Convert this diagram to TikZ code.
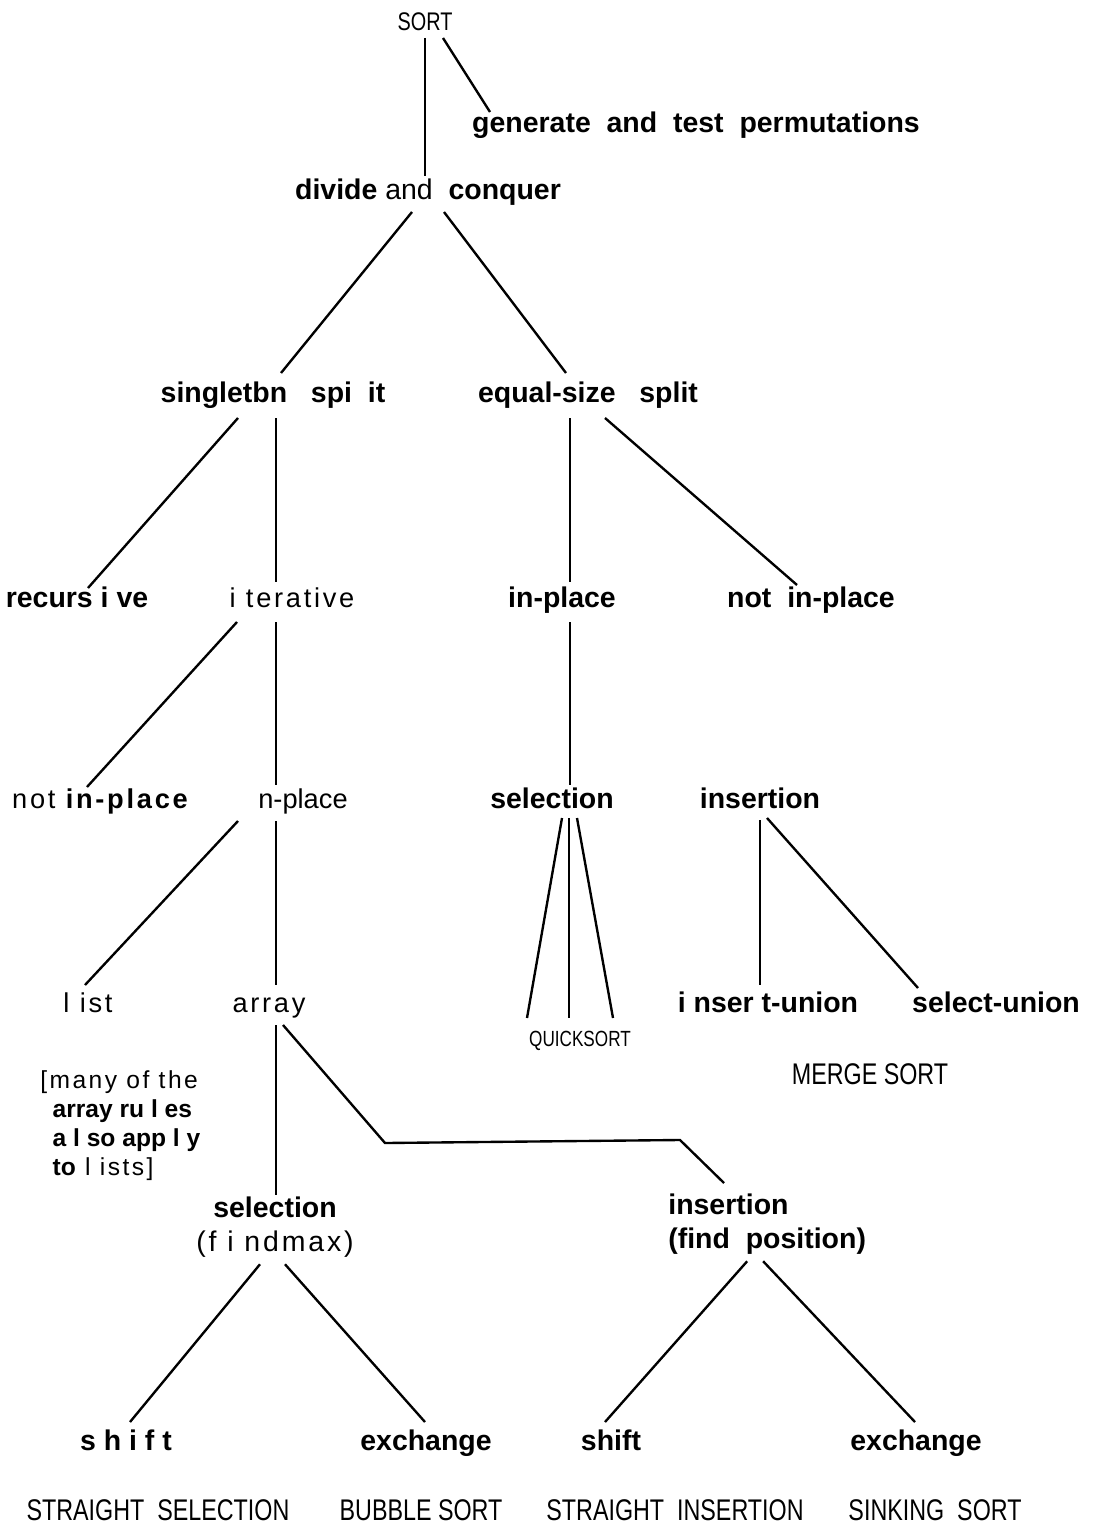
\documentclass[tikz,border=0pt]{standalone}
\usepackage{fontspec}                 % polices systeme
\setmainfont{Liberation Sans}
\newfontfamily\lblfont{Liberation Sans}
\newfontfamily\spcfont[LetterSpace=10]{Liberation Sans}
\newfontfamily\capfont[FakeStretch=0.78]{Liberation Sans}
\usepackage{tikz}
\usetikzlibrary{calc}                 % Calculs de coordonnées entre $ $
\tikzset{
  lbl/.style={inner sep=0pt,anchor=base,font=\lblfont\bfseries\fontsize{16.2}{18.8}\selectfont},
  thn/.style={inner sep=0pt,anchor=base,font=\spcfont\fontsize{15.5}{18.8}\selectfont},
  upc/.style={inner sep=0pt,anchor=base,font=\capfont\fontsize{17}{20}\selectfont},
  br/.style={line width=1.35pt}
}

\begin{document}
\begin{tikzpicture}[x=0.02cm,y=-0.02cm]
\useasboundingbox(0,0)rectangle(1096,1530);
% niveaux de l'arbre
\node[upc,font=\capfont\fontsize{14.5}{17}\selectfont](sort)at(425,31){SORT};
\node[lbl](gen)at(696,133){generate\ \ and\ \ test\ \ permutations};
\node[lbl](divide)at(428,200){divide {\mdseries and}\ \ conquer};
\node[lbl](single)at(273,402){singletbn\ \ \ spi\ \ it};
\node[lbl](equal)at(588,402){equal-size\ \ \ split};
\node[lbl](rec)at(77,607){recurs i ve};
\node[thn](iter)at(292,607){i terative};
\node[lbl](inpl)at(562,607){in-place};
\node[lbl](notinpl)at(811,607){not\ \ in-place};
\node[thn](notinplL)at(100,808){not\ {\bfseries in-place}};
\node[thn,font=\lblfont\fontsize{15.5}{18.8}\selectfont](nplace)at(303,808){n-place};
\node[lbl](sel)at(552,808){selection};
\node[lbl](ins)at(760,808){insertion};
\node[thn](list)at(88,1012){l ist};
\node[thn](array)at(269,1012){array};
\node[lbl](insu)at(768,1012){i nser t-union};
\node[lbl](selu)at(996,1012){select-union};
\node[upc,font=\capfont\fontsize{12.5}{15}\selectfont](quick)at(580,1046){QUICKSORT};
\node[upc](merge)at(870,1084){MERGE\ SORT};
\node[thn,align=left,anchor=north west,font=\spcfont\fontsize{14}{16.5}\selectfont](note)at(40,1070)
  {[many of the\\\hspace{7pt}{\lblfont\bfseries array ru l es}\\\hspace{7pt}{\lblfont\bfseries a l so app l y}\\\hspace{7pt}{\lblfont\bfseries to} l ists]};
\node[lbl,align=center,anchor=north](selmax)at(275,1197){selection\\{\spcfont\mdseries (f i ndmax)}};
\node[lbl,align=left,anchor=north west](insfp)at(668,1194){insertion\\(find\ \ position)};
\node[lbl](shiftL)at(126,1450){s h i f t};
\node[lbl](exchL)at(426,1450){exchange};
\node[lbl](shiftR)at(611,1450){shift};
\node[lbl](exchR)at(916,1450){exchange};
\node[upc](strsel)at(158,1520){STRAIGHT\ \ SELECTION};
\node[upc](bubble)at(421,1520){BUBBLE SORT};
\node[upc](strins)at(675,1520){STRAIGHT\ \ INSERTION};
\node[upc](sinking)at(935,1520){SINKING\ \ SORT};
% branches
\draw[br]($(sort.base)+(0,7)$)--($(divide.base)+(-3,-24)$);
\draw[br]($(sort.base)+(18,7)$)--($(gen.base)+(-206,-21)$);
\draw[br]($(divide.base)+(-16,12)$)--($(single.base)+(8,-29)$);
\draw[br]($(divide.base)+(16,12)$)--($(equal.base)+(-22,-29)$);
\draw[br]($(single.base)+(-35,16)$)--($(rec.base)+(11,-19)$);
\draw[br]($(single.base)+(3,16)$)--($(iter.base)+(-16,-25)$);
\draw[br]($(equal.base)+(-18,16)$)--($(inpl.base)+(8,-25)$);
\draw[br]($(equal.base)+(17,16)$)--($(notinpl.base)+(-14,-22)$);
\draw[br]($(iter.base)+(-55,15)$)--($(notinplL.base)+(-13,-21)$);
\draw[br]($(iter.base)+(-16,15)$)--($(nplace.base)+(-27,-23)$);
\draw[br]($(inpl.base)+(8,15)$)--($(sel.base)+(18,-23)$);
\draw[br]($(nplace.base)+(-65,13)$)--($(list.base)+(-3,-27)$);
\draw[br]($(nplace.base)+(-27,13)$)--($(array.base)+(7,-27)$);
\foreach \a/\b in {10/-53,17/-11,25/33}
  \draw[br]($(sel.base)+(\a,10)$)--($(quick.base)+(\b,-28)$);
\draw[br]($(ins.base)+(0,12)$)--($(insu.base)+(-8,-27)$);
\draw[br]($(ins.base)+(7,10)$)--($(selu.base)+(-78,-24)$);
\draw[br]($(array.base)+(7,13)$)--($(selmax.north)+(1,-2)$);
\draw[br]($(array.base)+(14,13)$)--++(102,118)--++(295,-3)--($(insfp.north west)+(56,-11)$);
\draw[br]($(selmax.south)+(-15,7)$)--($(shiftL.base)+(4,-28)$);
\draw[br]($(selmax.south)+(10,7)$)--($(exchL.base)+(-1,-28)$);
\draw[br]($(insfp.south)+(-20,7)$)--($(shiftR.base)+(-6,-28)$);
\draw[br]($(insfp.south)+(-4,7)$)--($(exchR.base)+(-1,-28)$);
\end{tikzpicture}
\end{document}
